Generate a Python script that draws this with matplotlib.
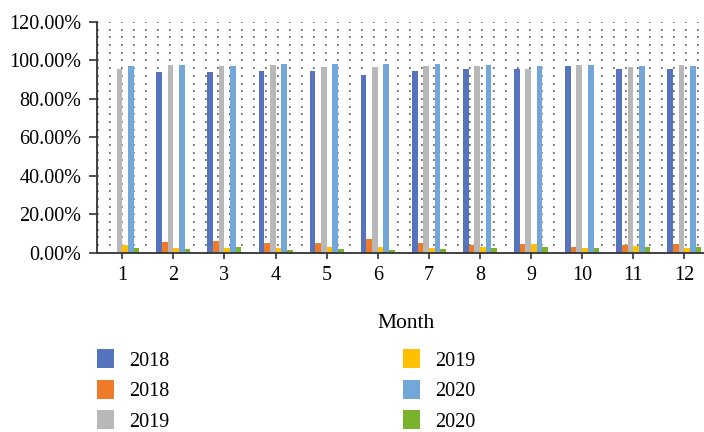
import numpy as np
import matplotlib
matplotlib.use("Agg")
import matplotlib.pyplot as plt
from matplotlib.ticker import MultipleLocator, PercentFormatter

months = list(range(1, 13))

# monthly shares in percent; January 2018 has no record
high_2018 = [np.nan, 94.1, 93.8, 94.6, 94.6, 92.5, 94.6, 95.7, 95.5, 97.0, 95.8, 95.5]
low_2018 = [np.nan, 5.7, 6.1, 5.0, 5.0, 7.1, 5.0, 4.0, 4.4, 3.0, 4.0, 4.4]
high_2019 = [95.7, 97.6, 97.2, 97.6, 96.7, 96.7, 97.2, 97.0, 95.5, 97.8, 96.5, 97.6]
low_2019 = [4.0, 2.3, 2.6, 2.3, 3.0, 3.0, 2.6, 3.0, 4.4, 2.3, 3.3, 2.3]
high_2020 = [97.2, 97.8, 96.9, 98.4, 98.1, 98.4, 98.3, 97.8, 97.0, 97.8, 97.0, 97.0]
low_2020 = [2.6, 1.9, 3.0, 1.4, 1.8, 1.4, 1.8, 2.3, 3.0, 2.3, 3.0, 3.0]

series = [
    ("2018", high_2018, "#5673bd"),
    ("2018", low_2018, "#ee7b27"),
    ("2019", high_2019, "#b8b8b8"),
    ("2019", low_2019, "#fec000"),
    ("2020", high_2020, "#73a7d9"),
    ("2020", low_2020, "#7ab22b"),
]

plt.rcParams["font.family"] = ["Liberation Serif", "DejaVu Serif"]
plt.rcParams["lines.scale_dashes"] = False

fig = plt.figure(figsize=(7.04, 4.32), dpi=100)
ax = fig.add_axes([0.1374, 0.415, 0.871, 0.534])

width = 0.111
x = np.array(months, dtype=float)
for i, (label, values, color) in enumerate(series):
    ax.bar(x + (i - 2.5) * width, values, width, color=color, label=label)

ax.set_xlim(0.5, 12.5)
ax.set_ylim(0, 120)
ax.set_xticks(months)
ax.yaxis.set_major_locator(MultipleLocator(20))
ax.yaxis.set_minor_locator(MultipleLocator(4))
ax.yaxis.set_major_formatter(PercentFormatter(xmax=100, decimals=2))

# dotted lattice behind the bars
ax.set_axisbelow(True)
ax.grid(axis="y", which="both", color="#444444", linewidth=1.1,
        linestyle=(0, (1.2, 7.44)))

for side in ("top", "right"):
    ax.spines[side].set_visible(False)
for side in ("left", "bottom"):
    ax.spines[side].set_color("#333333")
    ax.spines[side].set_linewidth(1.3)

ax.tick_params(axis="y", which="major", length=6, width=1.2, color="#333333",
               labelsize=14.5, pad=5)
ax.tick_params(axis="y", which="minor", length=0)
ax.tick_params(axis="x", length=4.5, width=1.2, color="#333333",
               labelsize=14.5, pad=5)

fig.text(406 / 704, 1 - 323 / 432, "Month", ha="center", va="center", fontsize=15.5)

fig.legend(loc="upper left", bbox_to_anchor=(0.138, 1 - 349 / 432), ncol=2,
           frameon=False, fontsize=14.5, handlelength=0.85, handleheight=1.1,
           handletextpad=0.75, columnspacing=11.6, labelspacing=0.45,
           borderpad=0, borderaxespad=0)

fig.savefig("out.png", dpi=100)
